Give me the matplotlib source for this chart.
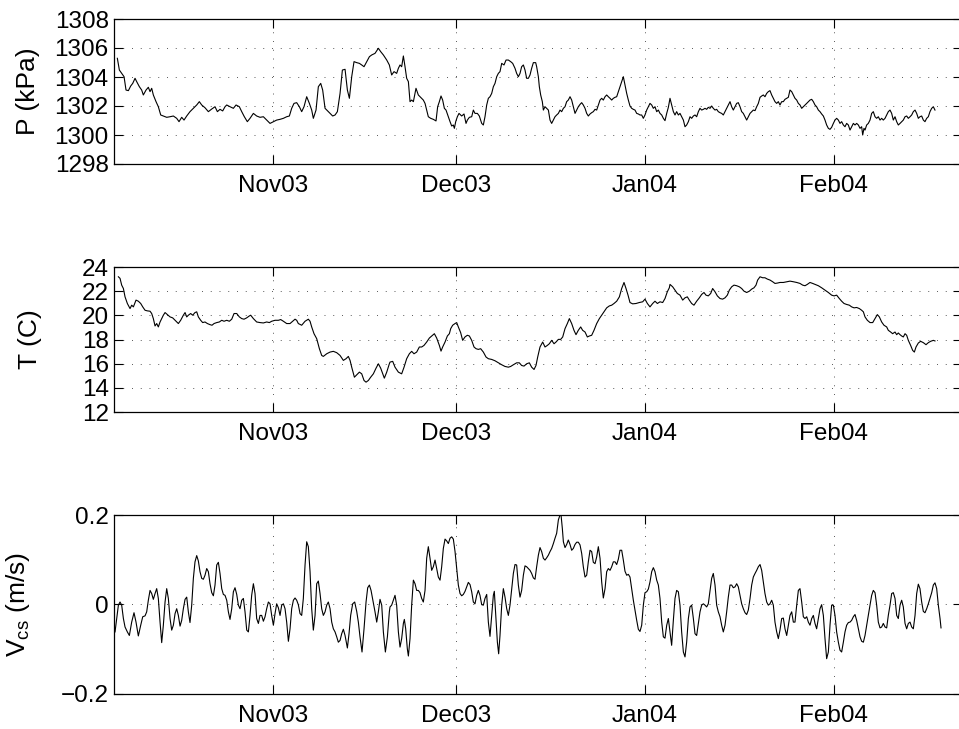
import numpy as np
import matplotlib
matplotlib.use("Agg")
import matplotlib.pyplot as plt
import matplotlib.dates as mdates
from datetime import datetime

plt.rcParams['font.family'] = ['Liberation Sans', 'DejaVu Sans']
plt.rcParams['mathtext.default'] = 'regular'

# time axis: days relative to 1 Nov 2003
base = mdates.date2num(datetime(2003, 11, 1))
tick_dates = [datetime(2003, 11, 1), datetime(2003, 12, 1),
              datetime(2004, 1, 1), datetime(2004, 2, 1)]
tick_labels = ["Nov03", "Dec03", "Jan04", "Feb04"]
xlim_days = (-25.97, 113.0)

# pressure (kPa)
p_day = [-25.47, -25.14, -24.76, -24.37, -24.05, -23.66, -23.28, -22.95, -22.57, -22.30,
         -21.86, -21.48, -21.21, -20.77, -20.39, -20.11, -19.84, -19.57, -19.13, -18.75,
         -18.36, -17.93, -17.38, -16.83, -16.29, -15.74, -15.36, -14.92, -14.54, -14.10,
         -13.56, -13.01, -12.46, -12.03, -11.64, -11.10, -10.55, -10.00, -9.46, -9.07,
         -8.64, -8.20, -7.82, -7.54, -7.00, -6.45, -6.01, -5.47, -5.08, -4.65,
         -4.16, -3.72, -3.17, -2.63, -2.08, -1.53, -0.99, -0.44, 0.11, 0.65,
         1.20, 1.75, 2.29, 2.73, 3.11, 3.49, 3.93, 4.37, 4.75, 5.13,
         5.57, 6.01, 6.39, 6.66, 7.10, 7.48, 7.87, 8.19, 8.58, 8.96,
         9.40, 9.83, 10.22, 10.60, 11.04, 11.42, 11.86, 12.24, 12.57, 12.95,
         13.33, 13.77, 14.21, 14.59, 14.97, 15.41, 15.85, 16.23, 16.77, 17.32,
         17.70, 18.14, 18.69, 19.12, 19.50, 19.89, 20.32, 20.60, 20.87, 21.14,
         21.42, 21.69, 21.96, 22.24, 22.51, 22.78, 23.06, 23.33, 23.49, 23.87,
         24.15, 24.42, 24.69, 24.97, 25.24, 25.51, 25.90, 26.33, 26.77, 27.04,
         27.32, 27.59, 27.86, 28.14, 28.41, 28.79, 29.07, 29.34, 29.61, 29.78,
         30.00, 30.27, 30.54, 30.98, 31.36, 31.69, 31.91, 32.24, 32.62, 32.89,
         33.16, 33.55, 33.87, 34.26, 34.53, 34.80, 35.08, 35.35, 35.62, 35.90,
         36.17, 36.44, 36.72, 36.99, 37.26, 37.54, 37.92, 38.25, 38.63, 39.01,
         39.34, 39.72, 39.99, 40.27, 40.54, 40.81, 41.09, 41.36, 41.63, 41.91,
         42.18, 42.45, 42.73, 43.11, 43.27, 43.55, 43.71, 43.93, 44.20, 44.37,
         44.64, 44.91, 45.19, 45.46, 45.73, 46.01, 46.28, 46.55, 46.83, 47.10,
         47.37, 47.65, 47.92, 48.19, 48.46, 48.74, 49.01, 49.28, 49.56, 49.83,
         50.10, 50.38, 50.65, 50.92, 51.20, 51.47, 51.74, 52.02, 52.29, 52.56,
         52.84, 53.11, 53.38, 53.66, 53.93, 54.20, 54.48, 54.75, 55.02, 55.30,
         55.57, 55.84, 56.12, 56.39, 56.66, 56.93, 57.21, 57.48, 57.75, 58.03,
         58.30, 58.57, 58.85, 59.12, 59.39, 59.67, 59.94, 60.21, 60.49, 60.76,
         61.03, 61.31, 61.58, 61.85, 62.13, 62.40, 62.67, 62.95, 63.22, 63.49,
         63.77, 64.04, 64.31, 64.59, 64.86, 65.13, 65.40, 65.68, 65.95, 66.22,
         66.50, 66.77, 67.04, 67.32, 67.59, 67.86, 68.14, 68.41, 68.68, 68.96,
         69.23, 69.50, 69.78, 70.05, 70.32, 70.60, 70.87, 71.14, 71.41, 71.69,
         71.96, 72.23, 72.51, 72.78, 73.05, 73.33, 73.60, 73.87, 74.15, 74.42,
         74.69, 74.97, 75.24, 75.51, 75.79, 76.06, 76.33, 76.61, 76.88, 77.15,
         77.43, 77.70, 77.97, 78.25, 78.52, 78.79, 79.07, 79.34, 79.61, 79.89,
         80.16, 80.43, 80.70, 80.98, 81.25, 81.52, 81.80, 82.07, 82.34, 82.62,
         82.89, 83.16, 83.44, 83.71, 83.98, 84.26, 84.53, 84.80, 85.08, 85.35,
         85.62, 85.90, 86.17, 86.44, 86.72, 86.99, 87.26, 87.54, 87.81, 88.08,
         88.36, 88.63, 88.90, 89.17, 89.45, 89.72, 89.99, 90.27, 90.54, 90.81,
         91.09, 91.36, 91.63, 91.91, 92.18, 92.45, 92.73, 93.00, 93.27, 93.55,
         93.82, 94.09, 94.37, 94.64, 94.91, 95.19, 95.46, 95.73, 96.01, 96.28,
         96.55, 96.72, 96.93, 97.10, 97.37, 97.64, 97.92, 98.19, 98.46, 98.74,
         99.01, 99.28, 99.56, 99.83, 100.10, 100.38, 100.65, 100.92, 101.20, 101.47,
         101.74, 102.02, 102.29, 102.56, 102.84, 103.11, 103.38, 103.66, 103.93, 104.20,
         104.48, 104.75, 105.02, 105.30, 105.57, 105.84, 106.11, 106.39, 106.66, 106.93,
         107.21, 107.48, 107.75, 108.03, 108.30, 108.57]
p_kpa = [1305.29, 1304.48, 1304.25, 1304.02, 1303.10, 1303.06, 1303.38, 1303.56, 1303.91, 1303.68,
         1303.33, 1303.10, 1302.76, 1303.10, 1303.29, 1302.99, 1303.22, 1302.76, 1302.30, 1301.95,
         1301.38, 1301.31, 1301.22, 1301.26, 1301.31, 1301.15, 1300.92, 1301.22, 1301.03, 1301.31,
         1301.61, 1301.84, 1302.07, 1302.30, 1302.07, 1301.88, 1301.61, 1301.79, 1301.95, 1301.61,
         1301.77, 1301.66, 1301.95, 1302.07, 1301.95, 1301.84, 1302.07, 1301.95, 1301.61, 1301.26,
         1300.92, 1301.15, 1301.49, 1301.31, 1301.22, 1301.26, 1301.03, 1300.80, 1300.92, 1301.03,
         1301.08, 1301.15, 1301.26, 1301.31, 1301.84, 1302.18, 1302.23, 1301.95, 1301.61, 1301.95,
         1302.64, 1302.18, 1301.72, 1301.15, 1301.72, 1303.33, 1303.56, 1303.10, 1301.84, 1301.68,
         1301.49, 1301.31, 1301.38, 1301.61, 1302.87, 1304.48, 1304.53, 1303.10, 1302.53, 1304.02,
         1305.06, 1304.99, 1304.94, 1304.83, 1304.71, 1305.06, 1305.40, 1305.52, 1305.63, 1305.98,
         1305.75, 1305.52, 1305.17, 1304.83, 1304.14, 1304.37, 1304.25, 1304.60, 1304.83, 1304.71,
         1305.45, 1304.71, 1303.91, 1303.68, 1302.30, 1302.41, 1302.30, 1302.87, 1303.22, 1302.76,
         1302.64, 1302.53, 1302.41, 1302.18, 1301.72, 1301.26, 1301.15, 1301.08, 1300.97, 1301.95,
         1302.30, 1302.69, 1302.41, 1301.84, 1301.72, 1301.26, 1300.92, 1300.62, 1300.69, 1300.46,
         1300.92, 1301.26, 1301.49, 1301.31, 1301.45, 1300.80, 1301.03, 1301.22, 1301.26, 1301.72,
         1301.49, 1301.49, 1301.31, 1300.80, 1300.69, 1301.26, 1302.07, 1302.53, 1302.64, 1302.87,
         1303.33, 1303.56, 1304.02, 1304.25, 1304.37, 1304.94, 1304.83, 1305.17, 1305.17, 1305.06,
         1304.94, 1304.60, 1304.25, 1304.02, 1304.25, 1304.71, 1304.83, 1304.48, 1303.91, 1303.91,
         1304.14, 1304.60, 1304.99, 1304.99, 1304.71, 1304.02, 1303.33, 1302.76, 1302.30, 1301.72,
         1301.95, 1301.84, 1301.72, 1301.03, 1300.80, 1301.03, 1301.26, 1301.38, 1301.49, 1301.72,
         1301.61, 1301.84, 1301.95, 1302.30, 1302.41, 1302.64, 1302.41, 1301.95, 1301.49, 1301.72,
         1301.95, 1302.11, 1302.23, 1302.07, 1301.84, 1301.49, 1301.31, 1301.45, 1301.54, 1301.61,
         1301.77, 1301.72, 1302.07, 1302.41, 1302.53, 1302.41, 1302.64, 1302.76, 1302.64, 1302.53,
         1302.41, 1302.53, 1302.60, 1302.64, 1302.99, 1303.33, 1303.68, 1304.02, 1303.45, 1302.87,
         1302.41, 1302.00, 1301.84, 1301.77, 1301.72, 1301.49, 1301.45, 1301.38, 1301.38, 1301.15,
         1301.38, 1301.72, 1301.95, 1302.18, 1302.07, 1301.84, 1301.95, 1301.61, 1301.72, 1301.49,
         1301.38, 1301.15, 1300.99, 1301.49, 1301.91, 1302.53, 1302.07, 1301.61, 1301.38, 1301.61,
         1301.38, 1301.49, 1301.26, 1301.03, 1300.57, 1300.69, 1300.92, 1301.26, 1301.15, 1301.31,
         1301.38, 1301.26, 1301.61, 1301.84, 1301.72, 1301.77, 1301.84, 1301.77, 1301.91, 1301.84,
         1302.00, 1301.84, 1301.72, 1301.77, 1301.61, 1301.54, 1301.49, 1301.38, 1301.61, 1301.84,
         1302.07, 1302.30, 1301.95, 1301.72, 1301.95, 1302.18, 1302.23, 1301.95, 1301.61, 1301.49,
         1301.26, 1301.03, 1301.26, 1301.49, 1301.61, 1301.72, 1301.68, 1301.95, 1302.18, 1302.60,
         1302.69, 1302.76, 1302.64, 1302.87, 1302.99, 1303.06, 1302.76, 1302.53, 1302.30, 1302.18,
         1302.30, 1302.07, 1302.30, 1302.30, 1302.46, 1302.53, 1302.60, 1303.10, 1302.99, 1302.76,
         1302.53, 1302.41, 1302.18, 1302.07, 1301.84, 1301.95, 1302.07, 1302.18, 1302.30, 1302.41,
         1302.46, 1302.30, 1302.07, 1301.95, 1301.72, 1301.61, 1301.45, 1301.31, 1301.03, 1300.69,
         1300.46, 1300.39, 1300.53, 1300.80, 1301.03, 1301.15, 1301.03, 1300.80, 1300.92, 1300.69,
         1300.57, 1300.80, 1300.69, 1300.34, 1300.57, 1300.80, 1300.69, 1300.80, 1300.69, 1300.46,
         1300.57, 1300.00, 1300.46, 1300.34, 1300.69, 1300.80, 1301.03, 1301.49, 1301.61, 1301.26,
         1301.15, 1301.26, 1301.03, 1301.15, 1301.03, 1301.15, 1301.38, 1301.61, 1301.72, 1301.49,
         1301.03, 1301.26, 1300.92, 1300.69, 1300.80, 1300.92, 1301.03, 1301.26, 1301.31, 1301.15,
         1301.26, 1301.38, 1301.61, 1301.72, 1301.49, 1301.15, 1301.26, 1301.31, 1301.03, 1300.92,
         1301.15, 1301.26, 1301.61, 1301.84, 1301.95, 1301.72]

# temperature (C)
t_day = [-25.30, -25.03, -24.76, -24.48, -24.21, -23.83, -23.39, -23.12, -22.84, -22.41,
         -22.03, -21.64, -21.31, -20.93, -20.55, -20.11, -19.84, -19.57, -19.29, -19.02,
         -18.75, -18.47, -18.20, -17.93, -17.65, -17.27, -16.83, -16.40, -16.01, -15.74,
         -15.47, -15.09, -14.65, -14.37, -14.10, -13.83, -13.45, -13.12, -12.74, -12.46,
         -12.19, -11.81, -11.48, -11.10, -10.71, -10.28, -9.95, -9.62, -9.18, -8.75,
         -8.36, -7.98, -7.54, -7.11, -6.72, -6.34, -5.90, -5.47, -5.08, -4.70,
         -4.27, -3.83, -3.61, -3.17, -2.63, -2.08, -1.53, -0.99, -0.55, -0.17,
         0.38, 0.93, 1.31, 1.75, 2.29, 2.84, 3.28, 3.66, 3.93, 4.20,
         4.75, 5.30, 5.84, 6.12, 6.39, 6.77, 7.21, 7.65, 8.03, 8.30,
         8.85, 9.40, 9.94, 10.49, 11.04, 11.58, 12.02, 12.40, 12.68, 12.95,
         13.39, 13.77, 14.21, 14.59, 14.97, 15.30, 15.68, 16.06, 16.50, 16.94,
         17.32, 17.70, 18.03, 18.30, 18.69, 19.12, 19.23, 19.67, 20.05, 20.60,
         21.14, 21.53, 21.96, 22.40, 22.78, 23.16, 23.60, 24.04, 24.42, 24.80,
         25.24, 25.68, 26.06, 26.50, 26.88, 27.32, 27.59, 27.86, 28.25, 28.63,
         28.96, 29.18, 29.50, 29.89, 30.16, 30.43, 30.81, 31.14, 31.52, 31.91,
         32.24, 32.62, 33.00, 33.33, 33.71, 34.09, 34.53, 34.97, 35.35, 35.90,
         36.44, 36.99, 37.54, 38.08, 38.63, 39.01, 39.45, 39.99, 40.43, 40.81,
         41.20, 41.63, 42.07, 42.45, 42.84, 43.16, 43.44, 43.82, 44.26, 44.64,
         45.02, 45.35, 45.73, 46.12, 46.44, 46.83, 47.21, 47.54, 47.92, 48.30,
         48.63, 49.01, 49.39, 49.72, 50.10, 50.49, 50.81, 51.20, 51.58, 51.91,
         52.29, 52.67, 53.11, 53.55, 53.93, 54.31, 54.75, 55.19, 55.57, 55.95,
         56.39, 56.83, 57.21, 57.59, 57.92, 58.25, 58.57, 59.01, 59.56, 60.10,
         60.65, 61.03, 61.42, 61.85, 62.29, 62.67, 63.06, 63.49, 63.93, 64.31,
         64.69, 65.02, 65.13, 65.57, 65.95, 66.33, 66.77, 67.21, 67.59, 67.97,
         68.30, 68.68, 69.06, 69.50, 69.94, 70.32, 70.70, 71.03, 71.41, 71.80,
         72.12, 72.51, 72.89, 73.33, 73.76, 74.15, 74.53, 74.86, 75.24, 75.62,
         76.06, 76.50, 76.88, 77.26, 77.70, 78.14, 78.52, 78.90, 79.23, 79.50,
         79.89, 80.32, 80.70, 81.09, 81.52, 81.96, 82.34, 82.73, 83.16, 83.71,
         84.26, 84.80, 85.35, 85.90, 86.44, 86.88, 87.26, 87.64, 88.08, 88.52,
         88.90, 89.45, 89.99, 90.54, 91.09, 91.63, 92.02, 92.45, 92.89, 93.27,
         93.66, 94.09, 94.53, 94.91, 95.30, 95.73, 96.17, 96.55, 96.83, 97.10,
         97.48, 97.92, 98.36, 98.74, 99.12, 99.45, 99.83, 100.21, 100.65, 100.92,
         101.30, 101.63, 102.02, 102.29, 102.56, 102.84, 103.11, 103.38, 103.66, 103.93,
         104.20, 104.58, 104.91, 105.19, 105.46, 105.84, 106.22, 106.66, 107.10, 107.48,
         107.86, 108.30, 108.57]
t_c = [23.19, 23.06, 22.50, 22.22, 21.53, 20.98, 20.56, 20.84, 20.70, 21.26,
       21.17, 20.98, 20.70, 20.42, 20.37, 20.34, 20.15, 19.73, 19.12, 19.32,
       19.04, 19.45, 19.73, 20.01, 20.23, 20.06, 19.87, 19.79, 19.59, 19.45,
       19.32, 19.59, 20.01, 20.23, 19.87, 20.01, 20.15, 20.01, 20.23, 20.29,
       19.87, 19.59, 19.40, 19.45, 19.32, 19.23, 19.18, 19.32, 19.40, 19.45,
       19.59, 19.51, 19.59, 19.51, 19.68, 20.15, 20.15, 19.87, 19.73, 19.68,
       19.79, 19.95, 20.01, 19.73, 19.45, 19.40, 19.37, 19.45, 19.40, 19.51,
       19.59, 19.59, 19.65, 19.51, 19.32, 19.32, 19.51, 19.68, 19.59, 19.32,
       19.18, 19.51, 19.68, 19.51, 19.04, 18.48, 18.07, 17.24, 16.68, 16.60,
       16.82, 16.96, 17.02, 16.91, 16.68, 16.27, 16.41, 16.60, 16.27, 15.71,
       14.88, 15.08, 15.30, 15.16, 14.61, 14.47, 14.61, 14.88, 15.16, 15.63,
       15.99, 15.63, 15.16, 14.80, 15.30, 15.99, 16.13, 16.19, 15.71, 15.30,
       15.16, 15.71, 16.41, 16.82, 17.02, 16.82, 16.96, 17.38, 17.38, 17.51,
       17.79, 18.12, 18.29, 18.48, 18.12, 17.51, 17.04, 17.38, 17.79, 18.29,
       18.48, 18.90, 19.18, 19.32, 19.40, 19.04, 18.57, 17.93, 18.21, 18.35,
       18.29, 17.93, 17.38, 17.24, 17.18, 17.24, 16.96, 16.55, 16.41, 16.35,
       16.24, 16.07, 15.91, 15.77, 15.71, 15.77, 15.91, 16.07, 16.07, 15.85,
       15.80, 15.99, 16.07, 15.71, 15.52, 15.85, 16.55, 17.38, 17.79, 17.38,
       17.51, 17.65, 17.93, 17.65, 17.79, 18.01, 18.01, 18.21, 18.90, 19.32,
       19.73, 19.32, 18.76, 18.40, 18.76, 19.04, 18.76, 18.62, 18.21, 18.29,
       18.35, 18.76, 19.32, 19.73, 20.01, 20.29, 20.62, 20.78, 20.84, 20.98,
       21.17, 21.53, 22.22, 22.72, 22.22, 21.67, 21.06, 20.95, 20.98, 21.06,
       21.12, 21.34, 20.98, 20.70, 20.98, 21.17, 20.98, 21.12, 21.06, 21.39,
       21.95, 22.28, 22.56, 22.36, 22.09, 21.81, 21.67, 21.26, 21.45, 21.53,
       21.26, 20.98, 20.84, 21.17, 21.45, 21.73, 21.89, 21.67, 21.61, 21.81,
       22.22, 21.95, 21.61, 21.39, 21.34, 21.45, 21.67, 22.09, 22.36, 22.50,
       22.45, 22.36, 22.22, 22.00, 21.89, 22.00, 22.17, 22.28, 22.50, 22.92,
       23.19, 23.11, 23.11, 23.00, 22.92, 22.78, 22.64, 22.67, 22.72, 22.72,
       22.78, 22.83, 22.78, 22.72, 22.64, 22.50, 22.45, 22.56, 22.72, 22.64,
       22.56, 22.45, 22.28, 22.09, 21.89, 21.67, 21.61, 21.67, 21.39, 21.17,
       20.98, 20.90, 20.84, 20.70, 20.62, 20.65, 20.56, 20.42, 20.29, 19.87,
       19.59, 19.40, 19.40, 19.73, 20.06, 19.87, 19.45, 19.18, 19.04, 18.76,
       18.62, 18.48, 18.62, 18.40, 18.54, 18.40, 18.29, 18.21, 18.48, 18.35,
       17.93, 17.51, 17.10, 16.96, 17.38, 17.71, 17.85, 17.74, 17.57, 17.74,
       17.85, 17.93, 17.88]

# cross-shore velocity (m/s)
v_day = [-25.85, -25.58, -25.30, -25.03, -24.76, -24.48, -24.21, -23.83, -23.50, -23.12,
         -22.74, -22.41, -22.03, -21.64, -21.31, -20.93, -20.66, -20.39, -20.11, -19.84,
         -19.57, -19.29, -19.02, -18.75, -18.47, -18.20, -17.93, -17.65, -17.38, -17.11,
         -16.83, -16.56, -16.29, -16.01, -15.74, -15.47, -15.19, -14.92, -14.65, -14.37,
         -14.10, -13.83, -13.56, -13.28, -13.01, -12.74, -12.46, -12.19, -11.92, -11.64,
         -11.37, -11.10, -10.82, -10.55, -10.28, -10.00, -9.73, -9.46, -9.18, -8.91,
         -8.64, -8.36, -8.09, -7.82, -7.54, -7.27, -7.00, -6.72, -6.45, -6.18,
         -5.90, -5.63, -5.36, -5.08, -4.81, -4.54, -4.26, -3.99, -3.72, -3.45,
         -3.17, -2.90, -2.63, -2.35, -2.08, -1.81, -1.53, -1.26, -0.99, -0.71,
         -0.44, -0.17, 0.11, 0.38, 0.65, 0.93, 1.20, 1.47, 1.75, 2.02,
         2.29, 2.57, 2.84, 3.11, 3.39, 3.66, 3.93, 4.20, 4.48, 4.75,
         5.02, 5.30, 5.57, 5.84, 6.12, 6.39, 6.66, 6.94, 7.21, 7.48,
         7.76, 8.03, 8.30, 8.58, 8.85, 9.12, 9.40, 9.67, 9.94, 10.22,
         10.49, 10.76, 11.04, 11.31, 11.58, 11.86, 12.24, 12.51, 12.78, 13.11,
         13.44, 13.77, 14.04, 14.31, 14.64, 14.97, 15.30, 15.57, 15.85, 16.12,
         16.39, 16.77, 17.05, 17.32, 17.59, 17.87, 18.14, 18.47, 18.80, 19.12,
         19.23, 19.50, 19.78, 20.05, 20.32, 20.60, 20.87, 21.14, 21.42, 21.58,
         21.80, 22.07, 22.24, 22.51, 22.78, 23.06, 23.33, 23.60, 23.87, 24.15,
         24.42, 24.69, 24.97, 25.24, 25.51, 25.79, 26.06, 26.33, 26.61, 26.88,
         27.15, 27.43, 27.70, 27.97, 28.25, 28.52, 28.79, 29.07, 29.34, 29.61,
         29.89, 30.16, 30.43, 30.71, 30.98, 31.25, 31.53, 31.80, 32.07, 32.35,
         32.62, 32.89, 33.16, 33.44, 33.71, 33.98, 34.26, 34.53, 34.80, 35.08,
         35.35, 35.62, 35.90, 36.17, 36.33, 36.61, 36.83, 37.04, 37.26, 37.54,
         37.81, 38.08, 38.36, 38.63, 38.90, 39.18, 39.45, 39.72, 39.99, 40.27,
         40.54, 40.81, 41.09, 41.36, 41.63, 41.91, 42.18, 42.45, 42.73, 43.00,
         43.27, 43.55, 43.82, 44.09, 44.37, 44.64, 44.91, 45.19, 45.46, 45.73,
         46.01, 46.28, 46.55, 46.83, 47.10, 47.26, 47.48, 47.65, 47.92, 48.19,
         48.46, 48.74, 49.01, 49.28, 49.56, 49.83, 50.10, 50.38, 50.65, 50.92,
         51.20, 51.47, 51.74, 52.02, 52.29, 52.56, 52.84, 53.11, 53.38, 53.66,
         53.93, 54.20, 54.48, 54.75, 55.02, 55.30, 55.57, 55.84, 56.12, 56.39,
         56.66, 56.93, 57.21, 57.48, 57.75, 58.03, 58.30, 58.57, 58.85, 59.12,
         59.39, 59.67, 59.94, 60.21, 60.49, 60.76, 61.03, 61.31, 61.58, 61.85,
         62.13, 62.40, 62.67, 62.95, 63.22, 63.49, 63.77, 64.04, 64.31, 64.59,
         64.86, 65.13, 65.40, 65.68, 65.95, 66.22, 66.50, 66.77, 67.04, 67.32,
         67.59, 67.86, 68.14, 68.41, 68.68, 68.96, 69.23, 69.50, 69.78, 70.05,
         70.32, 70.60, 70.87, 71.14, 71.41, 71.69, 71.96, 72.23, 72.51, 72.78,
         73.05, 73.33, 73.60, 73.87, 74.15, 74.42, 74.69, 74.97, 75.24, 75.51,
         75.79, 76.06, 76.33, 76.61, 76.88, 77.15, 77.43, 77.70, 77.97, 78.25,
         78.52, 78.79, 79.07, 79.34, 79.61, 79.89, 80.16, 80.43, 80.70, 80.98,
         81.25, 81.52, 81.80, 82.07, 82.34, 82.62, 82.89, 83.16, 83.44, 83.71,
         83.98, 84.26, 84.53, 84.80, 85.08, 85.35, 85.62, 85.90, 86.17, 86.44,
         86.72, 86.99, 87.26, 87.54, 87.81, 88.08, 88.36, 88.63, 88.90, 89.17,
         89.45, 89.72, 89.99, 90.27, 90.54, 90.81, 91.09, 91.36, 91.63, 91.91,
         92.18, 92.45, 92.73, 93.00, 93.27, 93.55, 93.82, 94.09, 94.37, 94.64,
         94.91, 95.19, 95.46, 95.73, 96.01, 96.28, 96.55, 96.83, 97.10, 97.37,
         97.64, 97.92, 98.19, 98.46, 98.74, 99.01, 99.28, 99.56, 99.83, 100.10,
         100.38, 100.65, 100.92, 101.20, 101.47, 101.74, 102.02, 102.29, 102.56, 102.84,
         103.11, 103.38, 103.66, 103.93, 104.20, 104.48, 104.75, 105.02, 105.30, 105.57,
         105.84, 106.11, 106.39, 106.66, 106.93, 107.21, 107.48, 107.75, 108.03, 108.30,
         108.57, 108.85, 109.12, 109.40, 109.56]
v_ms = [-0.062, -0.032, -0.002, 0.005, -0.002, -0.032, -0.051, -0.062, -0.070, -0.040,
        -0.019, -0.040, -0.071, -0.047, -0.028, -0.026, -0.017, 0.009, 0.031, 0.024,
        0.011, 0.024, 0.035, 0.013, -0.040, -0.086, -0.047, 0.005, 0.035, 0.013,
        -0.032, -0.058, -0.047, -0.021, -0.010, -0.025, -0.049, -0.036, -0.010, 0.011,
        0.016, -0.017, -0.041, -0.002, 0.058, 0.095, 0.109, 0.097, 0.073, 0.058,
        0.056, 0.065, 0.080, 0.073, 0.046, 0.026, 0.019, 0.043, 0.088, 0.094,
        0.069, 0.035, 0.022, 0.020, 0.009, -0.017, -0.034, -0.010, 0.028, 0.037,
        0.022, -0.002, -0.010, 0.009, 0.013, -0.017, -0.058, -0.062, -0.025, 0.020,
        0.046, 0.024, -0.032, -0.043, -0.025, -0.025, -0.038, -0.028, -0.010, 0.005,
        0.001, -0.025, -0.047, -0.021, 0.001, -0.008, -0.025, -0.002, 0.001, -0.010,
        -0.040, -0.083, -0.055, -0.010, 0.009, 0.014, 0.009, -0.001, -0.021, -0.025,
        0.013, 0.088, 0.140, 0.129, 0.073, -0.010, -0.058, -0.025, 0.046, 0.052,
        0.024, -0.010, -0.025, -0.017, -0.002, 0.005, -0.010, -0.040, -0.055, -0.062,
        -0.073, -0.085, -0.081, -0.066, -0.056, -0.070, -0.098, -0.066, -0.025, 0.001,
        0.005, -0.016, -0.040, -0.073, -0.107, -0.055, 0.005, 0.037, 0.043, 0.031,
        0.011, -0.017, -0.040, -0.017, 0.011, -0.002, -0.062, -0.107, -0.073, -0.017,
        -0.006, -0.002, 0.009, 0.020, -0.002, -0.062, -0.096, -0.077, -0.043, -0.034,
        -0.055, -0.100, -0.116, -0.077, -0.002, 0.054, 0.046, 0.031, 0.031, 0.026,
        0.013, 0.005, 0.031, 0.103, 0.129, 0.103, 0.076, 0.084, 0.099, 0.080,
        0.061, 0.054, 0.084, 0.125, 0.146, 0.142, 0.136, 0.148, 0.151, 0.146,
        0.118, 0.080, 0.043, 0.024, 0.019, 0.022, 0.029, 0.039, 0.049, 0.044,
        0.028, 0.005, 0.001, 0.020, 0.031, 0.020, -0.001, -0.002, 0.013, 0.022,
        -0.040, -0.072, -0.025, 0.020, 0.029, -0.036, -0.085, -0.111, -0.070, -0.002,
        0.035, 0.016, -0.010, -0.025, -0.002, 0.035, 0.069, 0.089, 0.088, 0.043,
        0.016, 0.031, 0.065, 0.086, 0.084, 0.080, 0.076, 0.069, 0.059, 0.056,
        0.084, 0.110, 0.127, 0.118, 0.103, 0.099, 0.104, 0.110, 0.118, 0.125,
        0.136, 0.148, 0.159, 0.189, 0.200, 0.201, 0.170, 0.140, 0.127, 0.134,
        0.144, 0.134, 0.121, 0.125, 0.134, 0.139, 0.139, 0.133, 0.114, 0.084,
        0.061, 0.065, 0.095, 0.121, 0.118, 0.094, 0.091, 0.106, 0.129, 0.103,
        0.050, 0.014, 0.035, 0.073, 0.080, 0.076, 0.084, 0.095, 0.095, 0.089,
        0.101, 0.121, 0.121, 0.099, 0.074, 0.065, 0.067, 0.061, 0.035, 0.009,
        -0.013, -0.036, -0.056, -0.061, -0.047, -0.002, 0.026, 0.028, 0.034, 0.050,
        0.073, 0.082, 0.073, 0.054, 0.043, 0.013, -0.040, -0.073, -0.076, -0.047,
        -0.032, -0.062, -0.092, -0.036, 0.013, 0.031, 0.028, -0.002, -0.062, -0.107,
        -0.118, -0.085, -0.032, -0.006, -0.002, -0.032, -0.066, -0.070, -0.043, -0.017,
        -0.002, 0.001, -0.002, -0.006, 0.001, 0.031, 0.058, 0.069, 0.043, -0.002,
        -0.017, -0.028, -0.047, -0.062, -0.047, -0.017, 0.016, 0.043, 0.043, 0.037,
        0.039, 0.046, 0.039, 0.020, 0.001, -0.010, -0.019, -0.023, -0.013, 0.013,
        0.043, 0.061, 0.069, 0.076, 0.084, 0.089, 0.076, 0.050, 0.024, 0.005,
        -0.002, 0.001, 0.009, -0.002, -0.040, -0.062, -0.077, -0.058, -0.032, -0.031,
        -0.055, -0.070, -0.047, -0.025, -0.017, -0.040, -0.040, -0.002, 0.031, 0.035,
        0.005, -0.028, -0.032, -0.028, -0.040, -0.047, -0.032, -0.025, -0.043, -0.055,
        -0.032, -0.010, -0.001, -0.025, -0.077, -0.122, -0.107, -0.047, -0.002, -0.002,
        -0.025, -0.062, -0.085, -0.103, -0.107, -0.085, -0.062, -0.047, -0.041, -0.040,
        -0.036, -0.028, -0.023, -0.036, -0.055, -0.073, -0.083, -0.085, -0.070, -0.047,
        -0.025, -0.002, 0.020, 0.031, 0.026, -0.002, -0.040, -0.053, -0.051, -0.043,
        -0.051, -0.053, -0.025, -0.002, 0.024, 0.026, 0.013, -0.025, -0.032, -0.002,
        0.009, -0.006, -0.043, -0.055, -0.043, -0.040, -0.051, -0.055, -0.025, 0.024,
        0.045, 0.035, 0.005, -0.016, -0.019, -0.010, 0.001, 0.013, 0.026, 0.043,
        0.048, 0.035, -0.002, -0.032, -0.053]

panels = [
    (p_day, p_kpa, (1298, 1308), [1298, 1300, 1302, 1304, 1306, 1308],
     ["1298", "1300", "1302", "1304", "1306", "1308"], "P (kPa)"),
    (t_day, t_c, (12, 24), [12, 14, 16, 18, 20, 22, 24],
     ["12", "14", "16", "18", "20", "22", "24"], "T (C)"),
    (v_day, v_ms, (-0.2, 0.2), [-0.2, 0, 0.2],
     ["\u22120.2", "0", "0.2"], "V$_{cs}$ (m/s)"),
]

W, H = 959, 729
fig = plt.figure(figsize=(W / 100, H / 100), dpi=100)

# axes boxes in pixels: (top, bottom)
boxes = [(19, 164), (267, 412), (515, 693.5)]
left_px, right_px = 114.3, 962
label_x = [-0.088, -0.085, -0.0975]

grid_style = dict(color='0.35', linestyle=(0, (1, 8)), linewidth=0.7)

for (days, vals, ylim, yt, ytl, ylab), (top, bot), lx in zip(panels, boxes, label_x):
    ax = fig.add_axes([left_px / W, 1 - bot / H, (right_px - left_px) / W, (bot - top) / H])
    ax.plot(base + np.array(days), vals, color='k', linewidth=0.8)
    ax.set_xlim(base + xlim_days[0], base + xlim_days[1])
    ax.set_ylim(*ylim)
    ax.set_xticks([mdates.date2num(d) for d in tick_dates])
    ax.set_xticklabels(tick_labels)
    ax.set_yticks(yt)
    ax.set_yticklabels(ytl)
    ax.grid(True, **grid_style)
    ax.tick_params(direction='in', length=6.5, width=0.8, labelsize=17.5,
                   top=True, right=True)
    ax.tick_params(axis='x', pad=8)
    ax.tick_params(axis='y', pad=4)
    for s in ax.spines.values():
        s.set_linewidth(0.9)
    ax.set_ylabel(ylab, fontsize=19)
    ax.yaxis.set_label_coords(lx, 0.5)

fig.savefig("out.png", dpi=100)
